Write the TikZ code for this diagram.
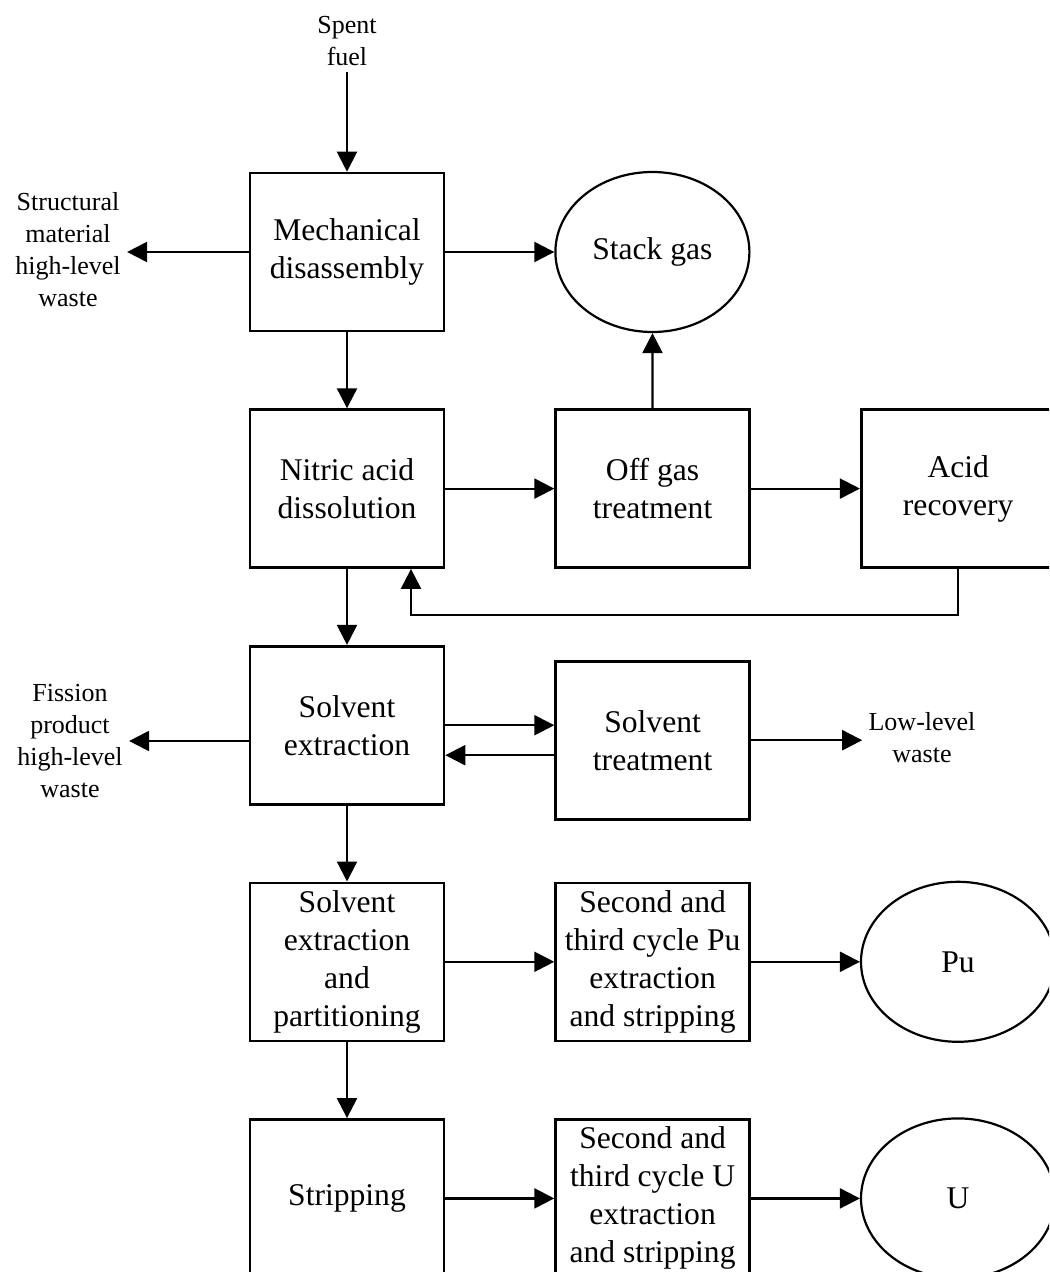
\documentclass[tikz,border=0pt]{standalone}
\usepackage{fontspec}
\setmainfont{Liberation Serif}
\usetikzlibrary{arrows.meta,positioning,shapes.geometric}

\begin{document}
\begin{tikzpicture}[
  x=0.5pt, y=-0.5pt,
  node distance=38pt and 54.5pt,
  box/.style={draw, line width=1.3pt, align=center, minimum width=97pt, minimum height=79pt, inner sep=2pt, font=\fontsize{15.8}{19}\selectfont},
  sink/.style={draw, ellipse, line width=1.1pt, minimum width=97pt, minimum height=80pt, inner sep=0pt, font=\fontsize{15.8}{19}\selectfont},
  tag/.style={align=center, inner sep=3pt, font=\fontsize{13}{16}\selectfont},
  flow/.style={-{Triangle[length=10pt,width=10pt]}, line width=1.1pt}
]
\useasboundingbox (0,0) rectangle (1049,1272);
\clip (0,0) rectangle (1049,1272);
% main column
\node[box] (mech) at (347,252) {Mechanical\\disassembly};
\node[box, below=of mech] (nitric) {Nitric acid\\dissolution};
\node[box, below=of nitric] (solvex) {Solvent\\extraction};
\node[box, below=of solvex] (part) {Solvent\\extraction\\and\\partitioning};
\node[box, below=of part] (strip) {Stripping};
% side branches
\node[sink, right=of mech] (stack) {Stack gas};
\node[box, right=of nitric] (offgas) {Off gas\\treatment};
\node[box, right=of offgas] (acid) {Acid\\recovery};
\node[box, right=of solvex, yshift=-7.5pt] (soltreat) {Solvent\\treatment};
\node[box, right=of part] (pucycle) {Second and\\third cycle Pu\\extraction\\and stripping};
\node[sink, right=of pucycle] (pu) {Pu};
\node[box, right=of strip] (ucycle) {Second and\\third cycle U\\extraction\\and stripping};
\node[sink, right=of ucycle] (u) {U};
% free labels
\node[tag] (fuel) at (347,41) {Spent\\fuel};
\node[tag] (struct) at (68,250) {Structural\\material\\high-level\\waste};
\node[tag] (fission) at (70,741) {Fission\\product\\high-level\\waste};
\node[tag] (lowlevel) at (922,738) {Low-level\\waste};
\coordinate (stin) at ([yshift=7.5pt]soltreat.west);
\coordinate (stout) at ([yshift=-7.5pt]soltreat.west);
% flows
\draw[flow] (fuel) -- (mech);
\draw[flow] (mech.west) -- (struct.east |- mech.west);
\draw[flow] (mech) -- (stack);
\draw[flow] (mech) -- (nitric);
\draw[flow] (nitric) -- (offgas);
\draw[flow] (offgas) -- (stack);
\draw[flow] (offgas) -- (acid);
\draw[flow] (acid.south) -- ++(0,46) -| ([xshift=32pt]nitric.south);
\draw[flow] (nitric) -- (solvex);
\draw[flow] (solvex.west |- fission.east) -- (fission.east);
\draw[flow] (solvex.east |- stin) -- (stin);
\draw[flow] (stout) -- (solvex.east |- stout);
\draw[flow] (soltreat.east) -- (lowlevel.west |- soltreat.east);
\draw[flow] (solvex) -- (part);
\draw[flow] (part) -- (pucycle);
\draw[flow] (pucycle) -- (pu);
\draw[flow] (part) -- (strip);
\draw[flow] (strip) -- (ucycle);
\draw[flow] (ucycle) -- (u);
\end{tikzpicture}
\end{document}
